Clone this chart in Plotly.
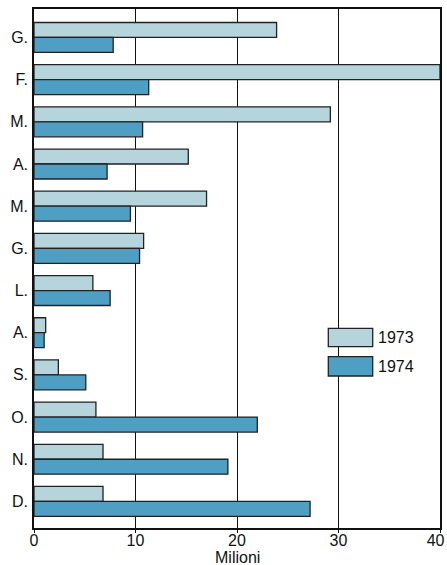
import plotly.graph_objects as go

months = ["G.", "F.", "M.", "A.", "M.", "G.", "L.", "A.", "S.", "O.", "N.", "D."]
v1973 = [23.9, 40.0, 29.2, 15.2, 17.0, 10.8, 5.8, 1.15, 2.4, 6.1, 6.8, 6.8]
v1974 = [7.8, 11.3, 10.7, 7.2, 9.5, 10.4, 7.5, 1.0, 5.1, 22.0, 19.1, 27.2]
xticks = [0, 10, 20, 30, 40]
xticklabels = ["0", "10", "20", "30", "40\u00a0\u00a0"]
series_names = ["1973", "1974"]
colors = ["#b5d4dc", "#4f9ec4"]

pos = list(range(len(months)))

L, R, T, B = 34, 7, 9, 37
W, H = 447, 565
PW = W - L - R
PH = H - T - B

fig = go.Figure()
for name, vals, col in zip(series_names, [v1973, v1974], colors):
    fig.add_trace(go.Bar(
        y=pos, x=vals, orientation="h", name=name,
        marker=dict(color=col, line=dict(color="#222222", width=1.3)),
        showlegend=False,
    ))

fnt = "Liberation Sans, Arial, Helvetica, sans-serif"
fig.update_layout(
    width=W, height=H,
    margin=dict(l=L, r=R, t=T, b=B),
    paper_bgcolor="white", plot_bgcolor="white",
    barmode="group", bargap=0.29, bargroupgap=0,
    font=dict(family=fnt, size=14, color="#111111"),
)
fig.update_xaxes(
    range=[0, 40], tickvals=xticks, ticktext=xticklabels,
    showgrid=True, gridcolor="#111111", gridwidth=1,
    showline=True, linecolor="#111111", linewidth=1.5, mirror=True,
    ticks="outside", ticklen=3, tickcolor="#111111",
    zeroline=False, automargin=False,
    ticklabeloverflow="allow", ticklabelstandoff=-6,
    tickfont=dict(size=16),
)
fig.update_yaxes(
    range=[11.63, -0.675], tickvals=pos, ticktext=months,
    showgrid=False, showline=True, linecolor="#111111", linewidth=1.5,
    mirror=True, ticks="", zeroline=False, automargin=False,
    ticklabelstandoff=1,
    tickfont=dict(size=16),
)

def px_to_paper_x(px):
    return (px - L) / PW

def px_to_paper_y(py):
    return (H - B - py) / PH

# x-axis title
fig.add_annotation(xref="paper", yref="paper", x=px_to_paper_x(237), y=px_to_paper_y(557),
                   text="Milioni", showarrow=False, xanchor="center", yanchor="middle",
                   font=dict(size=16))

# custom legend
for (name, col, ytop, ybot) in [("1973", colors[0], 328.3, 346.7), ("1974", colors[1], 356.7, 376.0)]:
    fig.add_shape(type="rect", xref="paper", yref="paper",
                  x0=px_to_paper_x(328.3), x1=px_to_paper_x(372.7),
                  y0=px_to_paper_y(ybot), y1=px_to_paper_y(ytop),
                  fillcolor=col, line=dict(color="#222222", width=1.3))
    fig.add_annotation(xref="paper", yref="paper", x=px_to_paper_x(376),
                       y=px_to_paper_y((ytop + ybot) / 2), text=name, showarrow=False,
                       xanchor="left", yanchor="middle", font=dict(size=16))

fig.write_html("out.html", config={"displayModeBar": False},
               post_script="document.body.style.margin='0';document.body.style.overflow='hidden';")
